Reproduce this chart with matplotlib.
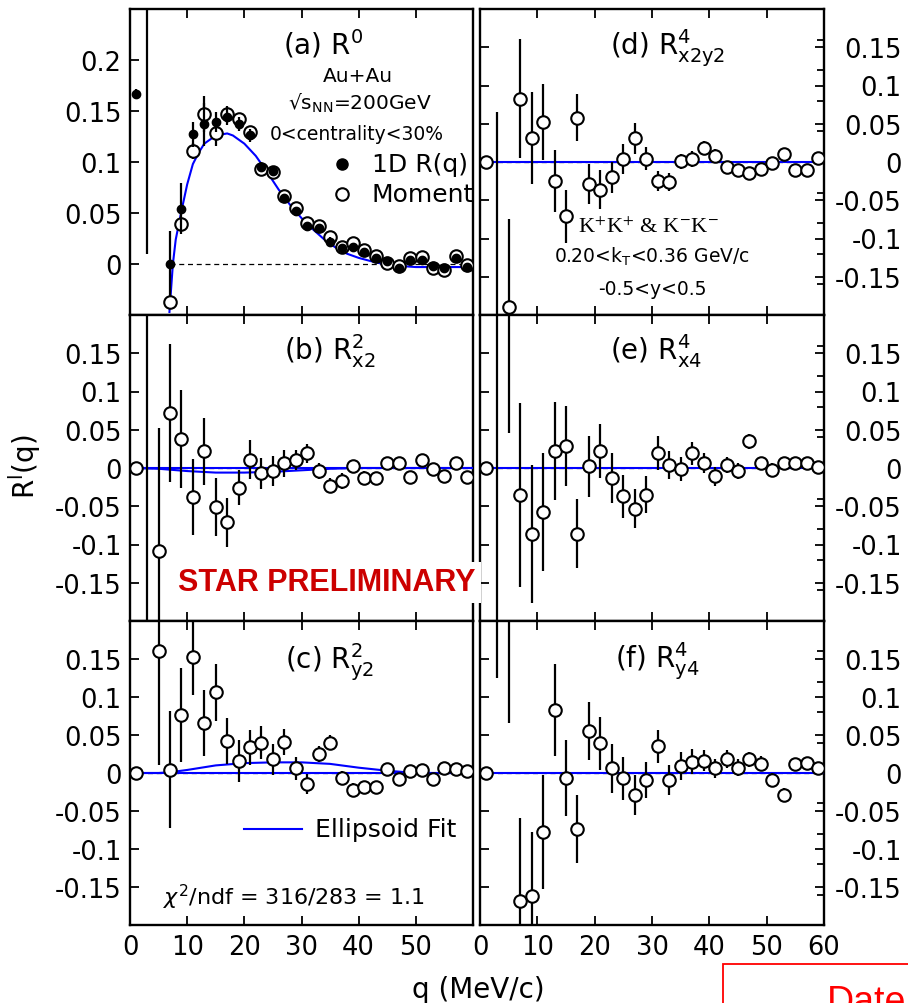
import numpy as np
import matplotlib.pyplot as plt
from matplotlib.ticker import MultipleLocator, FixedLocator, FuncFormatter
from matplotlib.lines import Line2D
from matplotlib.patches import Rectangle

# q bin centres (MeV/c)
q = np.arange(1, 60, 2)
nan = np.nan

# (a) R^0 : 1D R(q) fit values (filled) and moment values (open)
r0_1d = [0.167, 0.40, nan, 0.000, 0.054, 0.127, 0.137, 0.139, 0.144, 0.137,
         0.126, 0.095, 0.091, 0.065, 0.052, 0.037, 0.035, 0.022, 0.016, 0.017,
         0.012, 0.006, 0.003, -0.004, 0.004, 0.004, -0.002, -0.004, 0.006, -0.003]
r0_1d_err = [0.005, 0.39, nan, 0.032, 0.025, 0.012, 0.021, 0.010, 0.008, 0.007,
             0.006, 0.005, 0.005, 0.004, 0.004, 0.004, 0.004, 0.004, 0.004, 0.004,
             0.004, 0.004, 0.004, 0.004, 0.004, 0.004, 0.004, 0.004, 0.004, 0.004]
r0_mom = [nan, nan, nan, -0.037, 0.039, 0.111, 0.147, 0.128, 0.147, 0.142,
          0.129, 0.093, 0.090, 0.067, 0.055, 0.040, 0.037, 0.026, 0.017, 0.021,
          0.014, 0.008, 0.001, -0.002, 0.006, 0.007, -0.004, -0.006, 0.008, -0.001]
r0_mom_err = [nan, nan, nan, 0.004, 0.006, 0.008, 0.018, 0.012, 0.008, 0.006,
              0.005, 0.005, 0.004, 0.004, 0.004, 0.004, 0.004, 0.004, 0.004, 0.004,
              0.004, 0.004, 0.004, 0.004, 0.004, 0.004, 0.004, 0.004, 0.004, 0.004]

# (b) R^2_x2
r2x2 = [0.0, 0.30, -0.108, 0.072, 0.038, -0.038, 0.022, -0.051, -0.071, -0.026,
        0.011, -0.007, -0.004, 0.006, 0.010, 0.019, -0.004, -0.023, -0.017, 0.002,
        -0.013, -0.013, 0.006, 0.007, -0.012, 0.010, -0.001, -0.011, 0.007, -0.012]
r2x2_err = [0.004, 0.60, 0.160, 0.090, 0.064, 0.050, 0.044, 0.038, 0.032, 0.023,
            0.025, 0.020, 0.020, 0.018, 0.013, 0.012, 0.011, 0.010, 0.010, 0.009,
            0.009, 0.008, 0.008, 0.008, 0.007, 0.007, 0.007, 0.007, 0.006, 0.006]

# (c) R^2_y2
r2y2 = [0.0, nan, 0.161, 0.004, 0.076, 0.153, 0.066, 0.106, 0.042, 0.016,
        0.034, 0.040, 0.018, 0.041, 0.006, -0.014, 0.025, 0.040, -0.007, -0.022,
        -0.018, -0.018, 0.005, -0.008, 0.003, 0.004, -0.008, 0.006, 0.005, 0.003]
r2y2_err = [0.004, nan, 0.150, 0.077, 0.062, 0.050, 0.043, 0.037, 0.030, 0.028,
            0.023, 0.022, 0.020, 0.017, 0.015, 0.013, 0.011, 0.010, 0.009, 0.009,
            0.008, 0.008, 0.008, 0.007, 0.007, 0.007, 0.006, 0.006, 0.006, 0.006]

# (d) R^4_x2y2
r4x2y2 = [0.0, -0.32, -0.189, 0.083, 0.031, 0.052, -0.025, -0.071, 0.058, -0.029,
          -0.036, -0.020, 0.004, 0.031, 0.004, -0.025, -0.026, 0.001, 0.004, 0.018,
          0.008, -0.007, -0.010, -0.015, -0.009, -0.001, 0.011, -0.011, -0.011, 0.005]
r4x2y2_err = [0.004, 0.386, 0.114, 0.078, 0.060, 0.050, 0.041, 0.035, 0.031, 0.026,
              0.025, 0.020, 0.020, 0.020, 0.015, 0.013, 0.012, 0.010, 0.010, 0.009,
              0.009, 0.008, 0.008, 0.008, 0.007, 0.007, 0.007, 0.006, 0.006, 0.006]

# (e) R^4_x4
r4x4 = [0.0, 0.30, 0.30, -0.035, -0.086, -0.058, 0.022, 0.029, -0.086, 0.002,
        0.022, -0.013, -0.037, -0.053, -0.035, 0.020, 0.004, -0.001, 0.019, 0.006,
        -0.011, 0.004, -0.004, 0.035, 0.006, -0.003, 0.007, 0.007, 0.007, 0.001]
r4x4_err = [0.004, 0.60, 0.254, 0.120, 0.090, 0.077, 0.064, 0.052, 0.045, 0.040,
            0.035, 0.033, 0.028, 0.026, 0.024, 0.022, 0.018, 0.016, 0.015, 0.013,
            0.012, 0.010, 0.010, 0.010, 0.009, 0.009, 0.008, 0.008, 0.008, 0.008]

# (f) R^4_y4
r4y4 = [0.0, 0.35, 0.35, -0.169, -0.162, -0.077, 0.083, -0.006, -0.074, 0.055,
        0.039, 0.006, -0.007, -0.029, -0.009, 0.035, -0.009, 0.009, 0.015, 0.016,
        0.006, 0.018, 0.007, 0.018, 0.012, -0.009, -0.029, 0.012, 0.013, 0.007]
r4y4_err = [0.004, 0.225, 0.284, 0.110, 0.085, 0.075, 0.060, 0.050, 0.045, 0.038,
            0.035, 0.032, 0.028, 0.026, 0.024, 0.022, 0.020, 0.018, 0.016, 0.014,
            0.013, 0.012, 0.011, 0.010, 0.010, 0.009, 0.009, 0.008, 0.008, 0.008]

# ellipsoid fit curves
fit_q_a = [6.9, 7.5, 8, 9, 10, 11, 12, 13, 14, 15, 16, 17, 18, 19, 20, 22, 24, 26,
           28, 30, 32, 34, 36, 38, 40, 42, 45, 50, 55, 60]
fit_a = [-0.047, 0.0, 0.024, 0.052, 0.078, 0.098, 0.109, 0.118, 0.122, 0.126,
         0.127, 0.128, 0.126, 0.122, 0.118, 0.106, 0.090, 0.073, 0.058, 0.045,
         0.034, 0.024, 0.016, 0.010, 0.006, 0.003, -0.001, -0.003, -0.003, -0.003]
fit_q_b = [0, 5, 10, 15, 20, 25, 30, 35, 40, 60]
fit_b = [0.0, -0.001, -0.004, -0.006, -0.006, -0.005, -0.003, -0.001, 0.0, 0.0]
fit_q_c = [0, 5, 7, 10, 15, 20, 25, 30, 35, 40, 45, 50, 60]
fit_c = [0.0, 0.0, 0.001, 0.004, 0.010, 0.013, 0.014, 0.014, 0.012, 0.007, 0.003, 0.0, 0.0]

plt.rcParams['font.family'] = 'DejaVu Sans'
plt.rcParams['mathtext.fontset'] = 'dejavusans'
plt.rcParams['axes.linewidth'] = 1.7

W, H = 908, 1004
fig = plt.figure(figsize=(W / 100, H / 100), dpi=100)


def px(x, y):
    return x / W, 1 - y / H


def add_ax(x0, x1, y0, y1):
    return fig.add_axes([x0 / W, 1 - y1 / H, (x1 - x0) / W, (y1 - y0) / H])


def tick_fmt(v, pos):
    v = round(v, 3)
    return '0' if v == 0 else f'{v:g}'


cols = [(130, 473), (480, 824)]
rows = [(10, 316), (316, 622), (622, 926)]
axes = {}
for ci, (x0, x1) in enumerate(cols):
    for ri, (y0, y1) in enumerate(rows):
        ax = add_ax(x0, x1, y0, y1)
        axes[(ri, ci)] = ax
        ax.set_xlim(0, 60)
        ax.xaxis.set_major_locator(MultipleLocator(10))
        if ri == 0 and ci == 0:
            ax.set_ylim(-0.05, 0.25)
            ax.yaxis.set_major_locator(FixedLocator([0, 0.05, 0.1, 0.15, 0.2]))
        else:
            ax.set_ylim(-0.2, 0.2)
            ax.yaxis.set_major_locator(FixedLocator([-0.15, -0.1, -0.05, 0, 0.05, 0.1, 0.15]))
        ax.yaxis.set_major_formatter(FuncFormatter(tick_fmt))
        ax.tick_params(which='both', direction='in', top=True, bottom=True,
                       width=1.3, labelsize=18.5)
        ax.tick_params(which='major', length=6.5)
        ax.tick_params(axis='x', pad=6.5)
        if ci == 0:
            ax.tick_params(axis='y', left=True, right=False, pad=6)
            ax.xaxis.set_major_formatter(
                FuncFormatter(lambda v, p: '' if v >= 60 else f'{v:g}'))
        else:
            ax.yaxis.set_minor_locator(MultipleLocator(0.04))
            ax.tick_params(axis='y', left=True, right=True, labelleft=False,
                           labelright=True, pad=56)
            ax.tick_params(axis='y', which='minor', left=False, right=True, length=5)
            plt.setp(ax.yaxis.get_majorticklabels(), ha='right')
        if ri < 2:
            ax.tick_params(axis='x', labelbottom=False)


def draw_points(ax, y, e, **kw):
    ax.errorbar(q, y, yerr=e, fmt='o', ms=9, mfc='white', mec='black', mew=1.5,
                ecolor='black', elinewidth=1.6, capsize=0, zorder=4, **kw)


# (a) R^0
ax = axes[(0, 0)]
ax.hlines(0, 7, 60, colors='black', linestyles=(0, (4, 3)), lw=0.9, zorder=2)
ax.plot(fit_q_a, fit_a, color='blue', lw=1.5, zorder=3)
draw_points(ax, r0_mom, r0_mom_err)
ax.errorbar(q, r0_1d, yerr=r0_1d_err, fmt='o', ms=6, mfc='black', mec='black',
            ecolor='black', elinewidth=1.6, capsize=0, zorder=5)

# (b), (c) with fits; (d)-(f) flat fits
panel_data = [((1, 0), r2x2, r2x2_err, fit_q_b, fit_b),
              ((2, 0), r2y2, r2y2_err, fit_q_c, fit_c),
              ((0, 1), r4x2y2, r4x2y2_err, None, None),
              ((1, 1), r4x4, r4x4_err, None, None),
              ((2, 1), r4y4, r4y4_err, None, None)]
for key, y, e, fq, fy in panel_data:
    ax = axes[key]
    ax.axhline(0, color='black', ls=(0, (4, 3)), lw=0.9, zorder=2)
    ax.axhline(0, color='blue', lw=1.5, zorder=3)
    if fq is not None:
        ax.plot(fq, fy, color='blue', lw=1.5, zorder=3)
    draw_points(ax, y, e)

# panel titles
titles = [((283, 55), r'(a) $\mathrm{R}^{0}$'),
          ((284, 360), r'(b) $\mathrm{R}^{2}_{\mathrm{x2}}$'),
          ((285, 669), r'(c) $\mathrm{R}^{2}_{\mathrm{y2}}$'),
          ((610, 55), r'(d) $\mathrm{R}^{4}_{\mathrm{x2y2}}$'),
          ((610, 360), r'(e) $\mathrm{R}^{4}_{\mathrm{x4}}$'),
          ((615, 668), r'(f) $\mathrm{R}^{4}_{\mathrm{y4}}$')]
for (x, y), s in titles:
    fig.text(*px(x, y), s, fontsize=20, ha='left', va='baseline')

# collision info
fig.text(*px(358, 82), 'Au+Au', fontsize=14.5, ha='center', va='baseline')
fig.text(*px(360, 110), r'√s$_{\mathrm{NN}}$=200GeV', fontsize=14.5,
         ha='center', va='baseline')
fig.text(*px(357, 140), '0<centrality<30%', fontsize=13.5, ha='center', va='baseline')

# legend of panel (a)
fig.add_artist(Line2D([342 / W], [1 - 165 / H], marker='o', ms=8, mfc='black',
                      mec='black', ls='none'))
fig.add_artist(Line2D([342 / W], [1 - 195 / H], marker='o', ms=9, mfc='white',
                      mec='black', mew=1.5, ls='none'))
fig.text(*px(372, 165), '1D R(q)', fontsize=18, ha='left', va='center')
fig.text(*px(372, 195), 'Moment', fontsize=18, ha='left', va='center')

# kaon pair selection
fig.text(*px(648, 233), r'K$^{+}$K$^{+}$ & K$^{-}$K$^{-}$', fontsize=16,
         family='Liberation Serif', math_fontfamily='stix', ha='center', va='baseline')
fig.text(*px(652, 263), r'0.20<k$_{\mathrm{T}}$<0.36 GeV/c', fontsize=13.5,
         ha='center', va='baseline')
fig.text(*px(652, 295), '-0.5<y<0.5', fontsize=13.5, ha='center', va='baseline')

# fit legend and chi2
fig.add_artist(Line2D([244 / W, 302 / W], [1 - 830 / H, 1 - 830 / H], color='blue', lw=1.5))
fig.text(*px(315, 830), 'Ellipsoid Fit', fontsize=18, ha='left', va='center')
fig.text(*px(163, 905), r'$\chi^{2}$/ndf = 316/283 = 1.1', fontsize=16,
         ha='left', va='baseline')

# axis titles
fig.text(*px(25, 467), r'R$^{\mathrm{l}}$(q)', fontsize=20, rotation=90,
         ha='center', va='center')
fig.text(*px(478, 990), 'q (MeV/c)', fontsize=20, ha='center', va='center')

# preliminary stamp
fig.text(*px(178, 583), 'STAR PRELIMINARY', fontsize=22, fontweight='bold',
         family='Liberation Sans', color='#cc0000', ha='left', va='center', zorder=10,
         bbox=dict(facecolor='white', edgecolor='none', pad=4))

# date box in the corner
fig.add_artist(Rectangle(px(723, 1010), 300 / W, 45 / H, fill=False,
                         edgecolor='red', lw=1.3))
fig.text(*px(827, 985), 'Date', fontsize=27, family='Liberation Sans', color='red',
         ha='left', va='top')

fig.savefig('out.png', dpi=100)
